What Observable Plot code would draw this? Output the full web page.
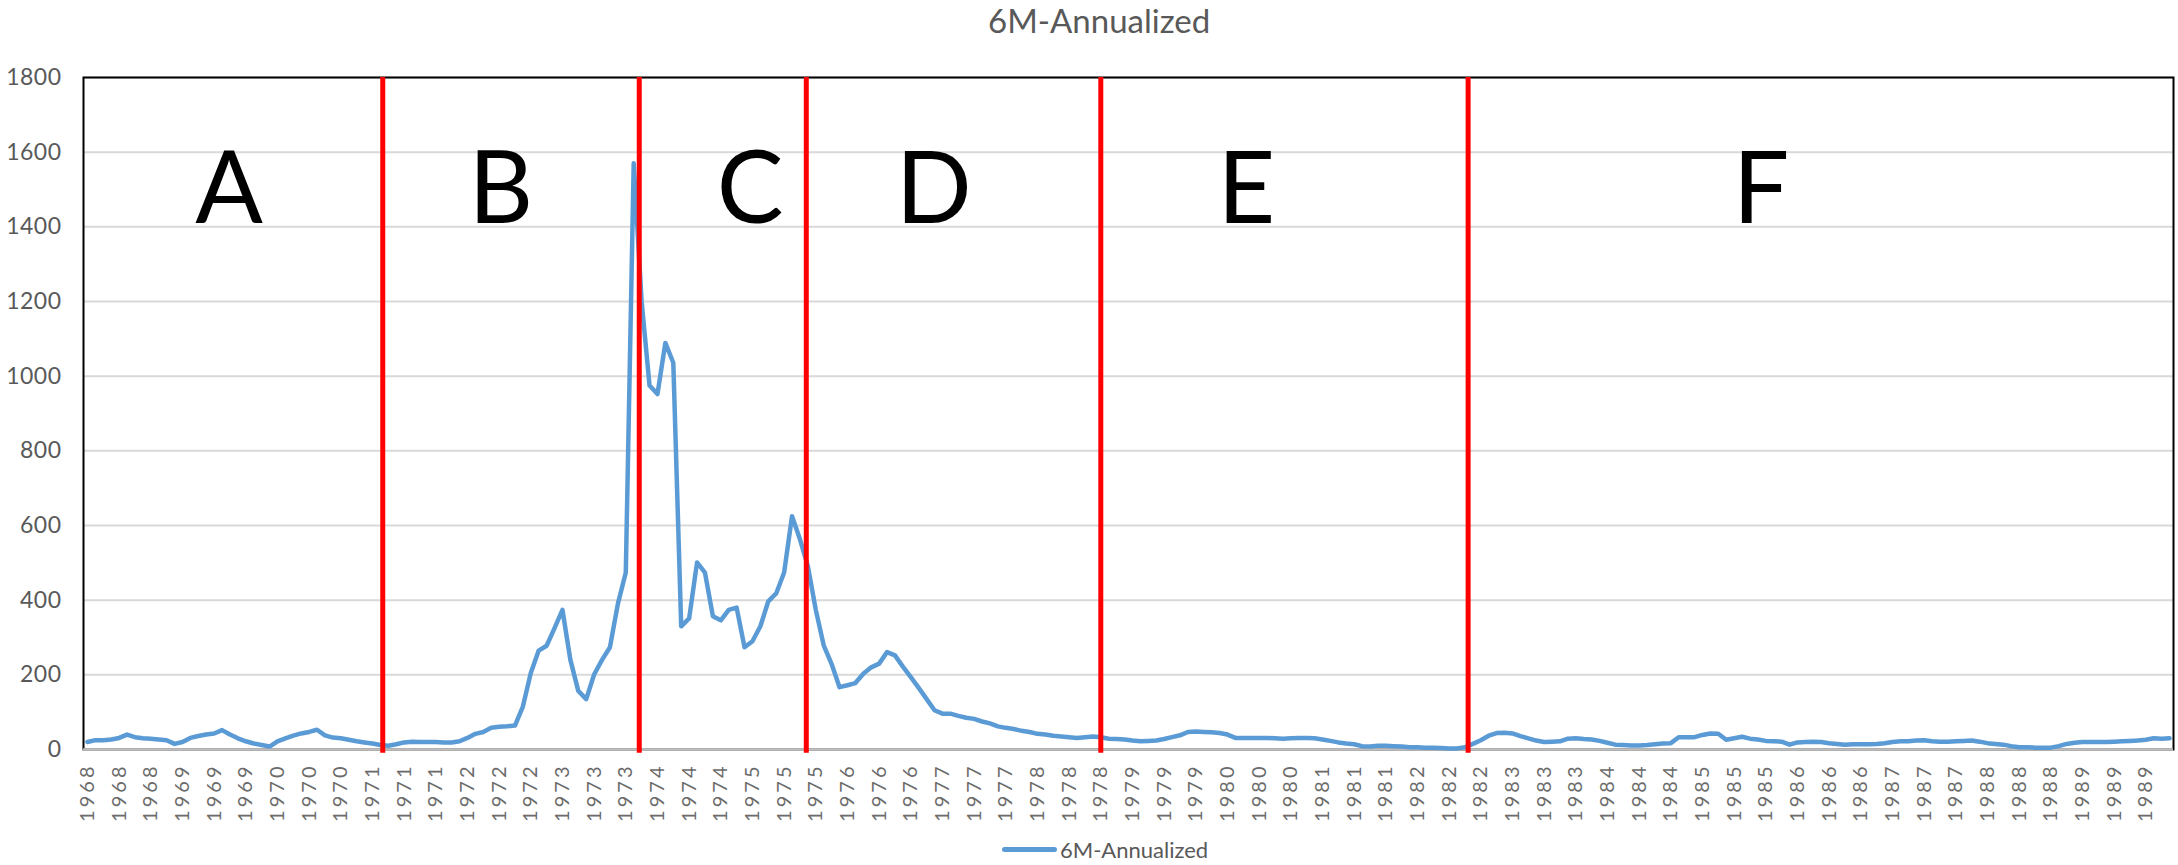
<!DOCTYPE html>
<html>
<head>
<meta charset="utf-8">
<script src="https://cdn.jsdelivr.net/npm/d3@7"></script>
<script src="https://cdn.jsdelivr.net/npm/@observablehq/plot@0.6"></script>
<style>
  html, body { margin: 0; padding: 0; background: #fff; overflow: hidden; }
  #chart { width: 2178px; font-family: Lato, "Open Sans", sans-serif; }
  #title { height: 41px; line-height: 41px; font-size: 33px; color: #595959; padding-left: 988px; white-space: nowrap; }
  #legend { height: 47px; line-height: 47px; font-size: 22px; color: #595959; padding-left: 1002px; display: flex; align-items: center; white-space: nowrap; }
  #legend .swatch { width: 55px; height: 5px; border-radius: 3px; background: #5B9BD5; margin-right: 3px; }
  svg g[aria-label="x-axis tick label"] text { letter-spacing: 3px; }
  svg g[aria-label="y-axis tick label"] text { letter-spacing: 0.5px; }
</style>
</head>
<body>
<div id="chart">
  <div id="title">6M-Annualized</div>
  <div id="plot"></div>
  <div id="legend"><span class="swatch"></span><span>6M-Annualized</span></div>
</div>
<script>
// Monthly series, Jan 1968 .. Dec 1989 (12 values per year)
const values = [
  20, 25, 25, 27, 31, 40, 33, 30, 29, 27, 25, 15,          // 1968
  20, 31, 36, 40, 43, 52, 40, 30, 22, 16, 12, 8,           // 1969
  22, 30, 37, 43, 47, 53, 38, 32, 30, 26, 22, 19,          // 1970
  16, 12, 10, 14, 19, 21, 20, 20, 20, 19, 19, 22,          // 1971
  31, 42, 47, 58, 61, 62, 64, 115, 205, 265, 278, 325,     // 1972
  374, 240, 157, 135, 201, 240, 274, 390, 474, 1570, 1200, 975, // 1973
  952, 1089, 1036, 330, 351, 501, 474, 357, 346, 374, 380, 274, // 1974
  290, 330, 397, 418, 474, 625, 563, 491, 374, 279, 229, 167,   // 1975
  172, 178, 203, 220, 230, 261, 252, 222, 194, 165, 135, 105,   // 1976
  96, 96, 90, 85, 82, 75, 70, 62, 58, 55, 50, 47,          // 1977
  42, 40, 37, 35, 33, 31, 33, 35, 33, 29, 28, 27,          // 1978
  24, 22, 23, 24, 28, 33, 38, 47, 48, 47, 46, 44,          // 1979
  40, 31, 31, 31, 31, 31, 30, 29, 30, 31, 31, 30,          // 1980
  27, 23, 19, 16, 14, 9, 8, 10, 10, 9, 8, 6,               // 1981
  6, 5, 5, 4, 3, 3, 6, 15, 25, 37, 44, 45,                 // 1982
  43, 36, 30, 24, 20, 21, 22, 29, 30, 28, 27, 23,          // 1983
  18, 13, 12, 11, 11, 12, 14, 16, 17, 33, 33, 33,          // 1984
  39, 43, 42, 26, 30, 34, 29, 27, 23, 22, 21, 13,          // 1985
  19, 20, 21, 20, 17, 15, 13, 14, 14, 14, 15, 17,          // 1986
  20, 22, 22, 24, 25, 22, 21, 21, 22, 23, 24, 21,          // 1987
  17, 15, 13, 9, 6, 6, 5, 5, 5, 9, 15, 18,                 // 1988
  20, 20, 20, 20, 21, 22, 23, 24, 26, 30, 29, 30           // 1989
];

// Category-axis labels (every 4th month)
const tickLabels = [
  "1968","1968","1968","1969","1969","1969","1970","1970","1970","1971","1971","1971",
  "1972","1972","1972","1973","1973","1973","1974","1974","1974","1975","1975","1975",
  "1976","1976","1976","1977","1977","1977","1978","1978","1978","1979","1979","1979",
  "1980","1980","1980","1981","1981","1981","1982","1982","1982","1983","1983","1983",
  "1984","1984","1984","1985","1985","1985","1986","1986","1986","1987","1987","1987",
  "1988","1988","1988","1989","1989","1989"
];

const yTicks = [0, 200, 400, 600, 800, 1000, 1200, 1400, 1600, 1800];

// Regime dividers (month index along the category axis)
const dividers = [37.3, 69.7, 90.8, 128.0, 174.4];

// Regime letters and their month-index positions
const regionLetters = ["A", "B", "C", "D", "E", "F"];
const regionPos = [17.9, 52.2, 83.7, 106.9, 146.4, 211.4];

const data = values.map((v, i) => ({i, v}));
const tickIdx = tickLabels.map((_, k) => k * 4);

const plot = Plot.plot({
  width: 2178,
  height: 785,
  marginTop: 36,
  marginBottom: 77,
  marginLeft: 83,
  marginRight: 5,
  style: {fontFamily: "Lato, 'Open Sans', sans-serif", background: "white", overflow: "visible"},
  x: {type: "linear", domain: [-0.5, values.length - 0.5]},
  y: {domain: [0, 1800]},
  marks: [
    Plot.gridY(yTicks.filter(d => d > 0), {stroke: "#d9d9d9", strokeOpacity: 1, strokeWidth: 2}),
    Plot.frame({stroke: "#000", strokeWidth: 2}),
    Plot.ruleY([0], {stroke: "#bfbfbf", strokeWidth: 2.5}),
    Plot.axisY(yTicks, {tickSize: 0, tickPadding: 22, fontSize: 23, fill: "#595959", label: null,
      tickFormat: d => String(d)}),
    Plot.axisX(tickIdx, {tickSize: 0, tickPadding: 14, tickRotate: -90, fontSize: 20, fill: "#6b6b6b",
      tickFormat: d => tickLabels[d / 4], label: null}),
    Plot.line(data, {x: "i", y: "v", stroke: "#5B9BD5", strokeWidth: 4.5, strokeLinejoin: "round", strokeLinecap: "round"}),
    Plot.ruleX(dividers, {x: d => d, y1: -10, y2: 1800, stroke: "#FF0000", strokeWidth: 5}),
    Plot.text(regionLetters, {x: (d, k) => regionPos[k], y: 1495, text: d => d, fontSize: 100, fill: "#000"})
  ]
});
document.getElementById("plot").appendChild(plot);
</script>
</body>
</html>
